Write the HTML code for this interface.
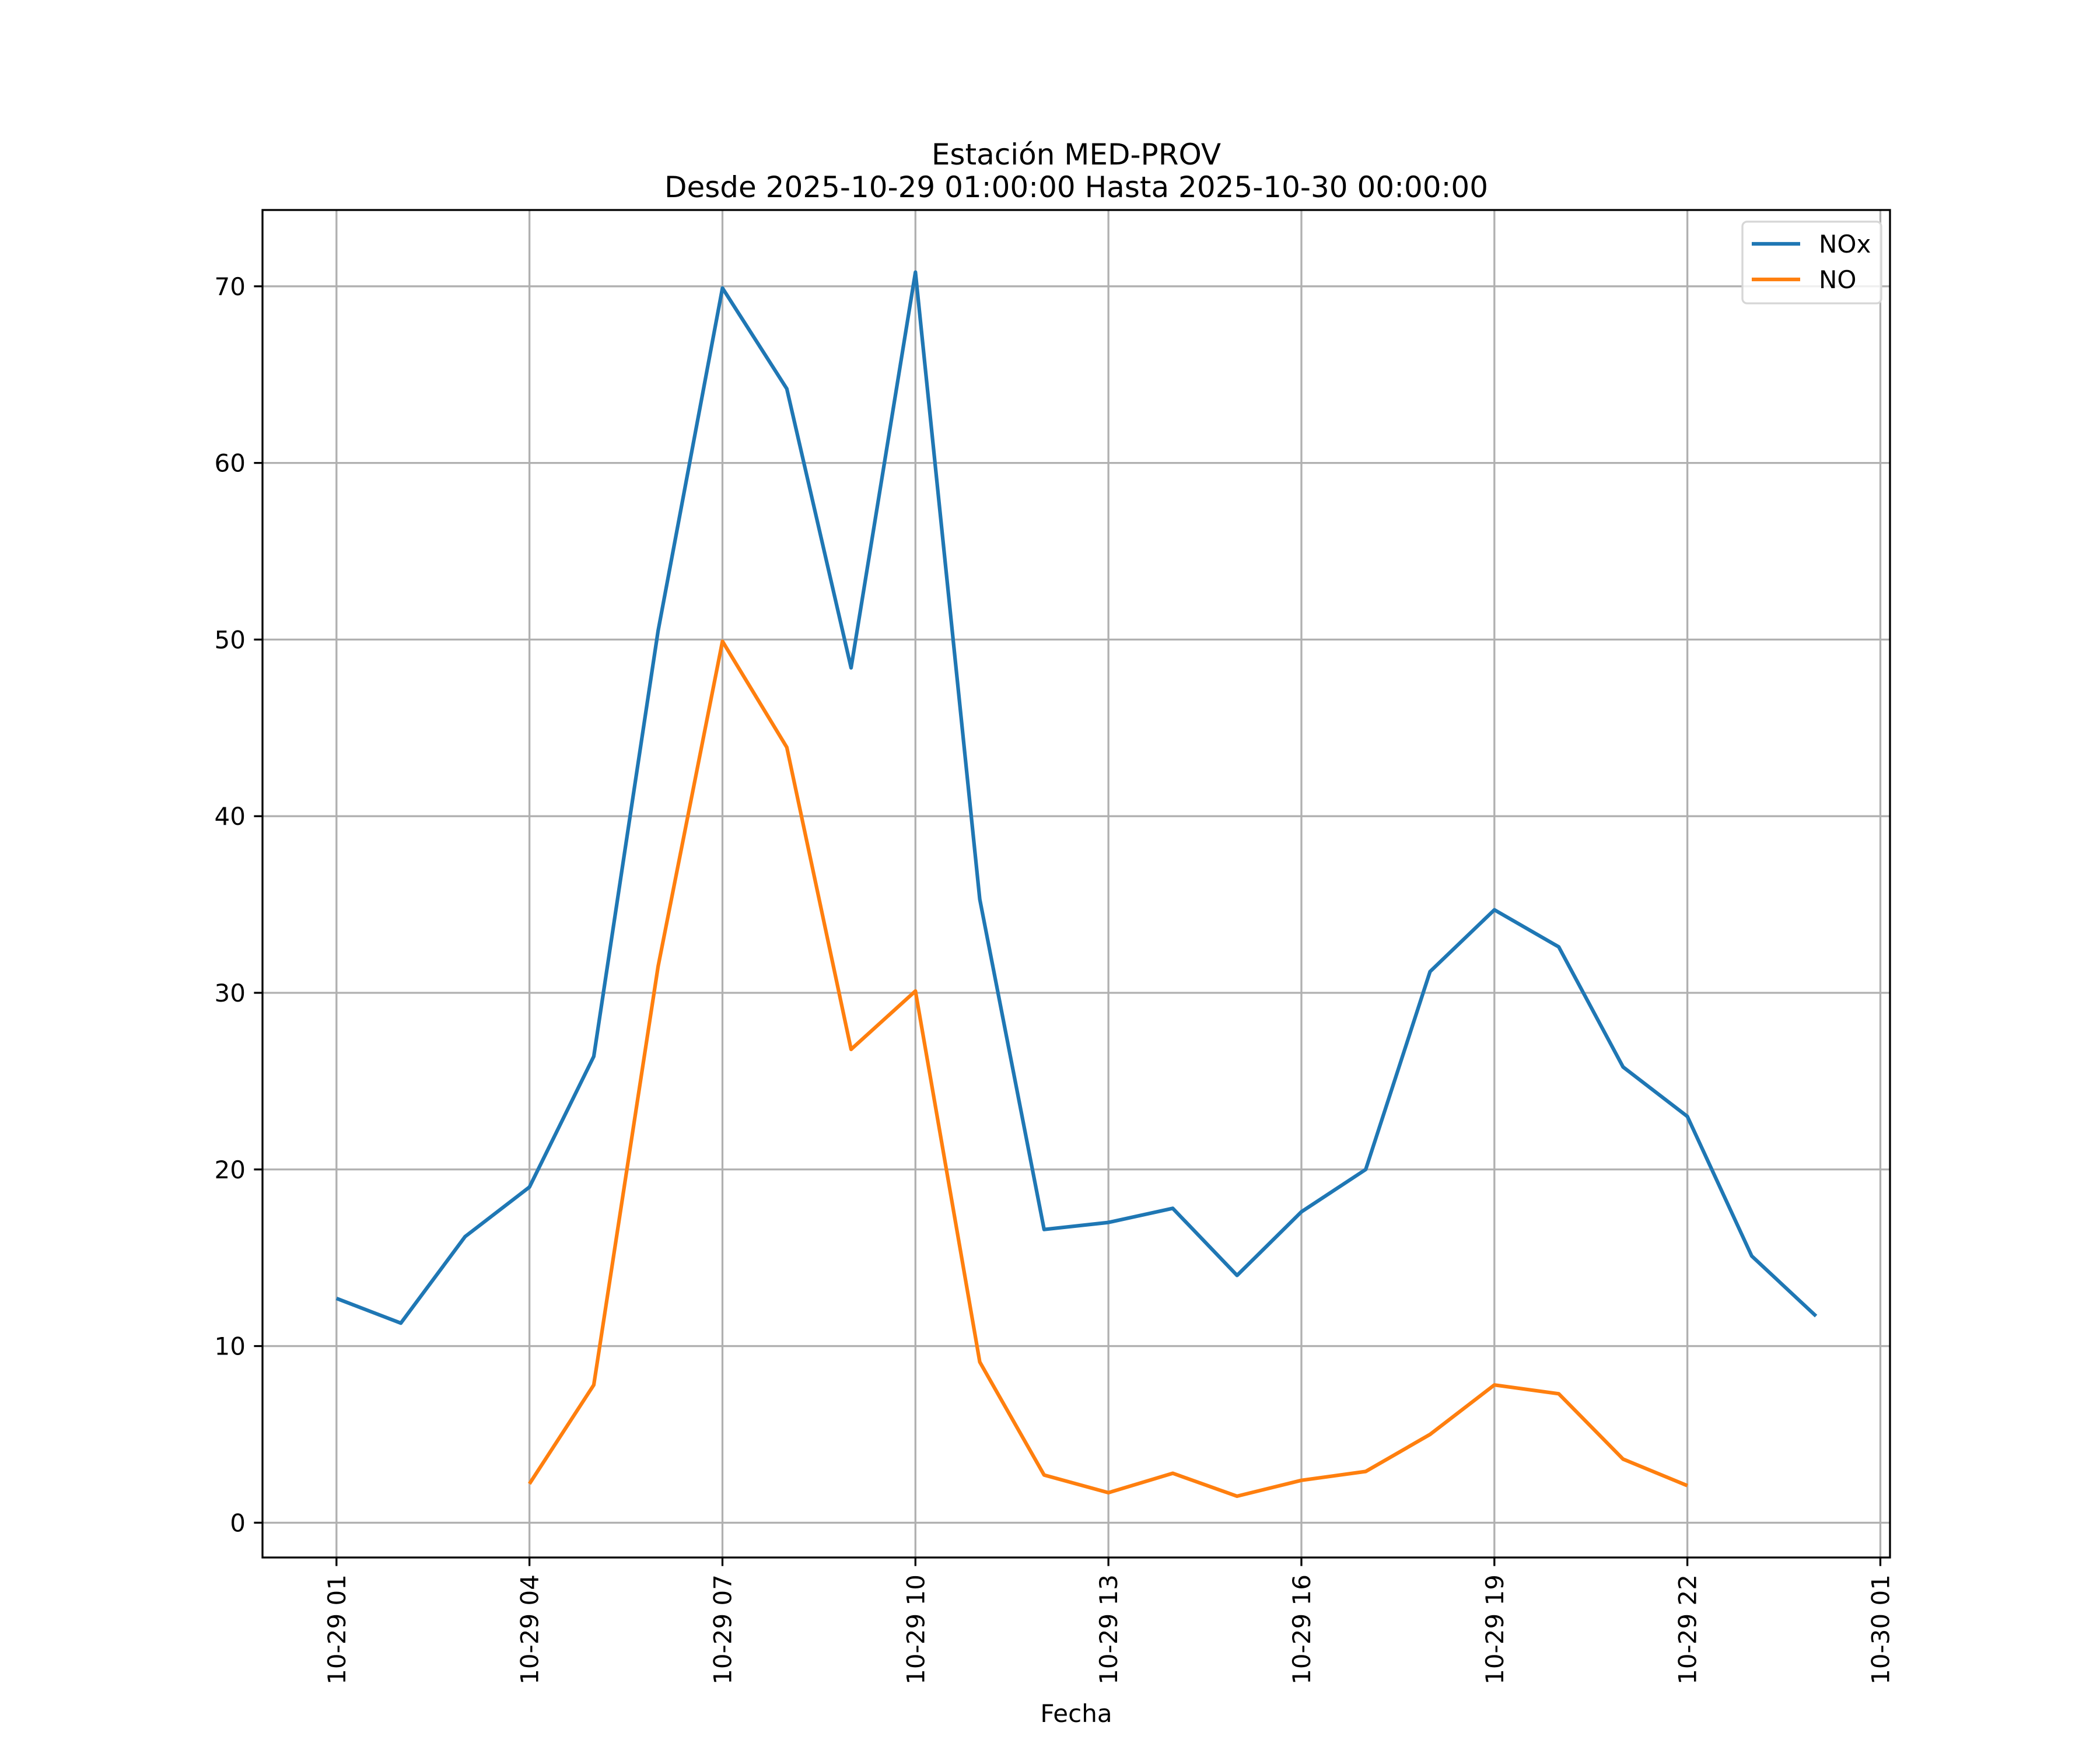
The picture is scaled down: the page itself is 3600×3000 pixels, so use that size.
<!DOCTYPE html>
<html><head><meta charset="utf-8"><style>html,body{margin:0;padding:0;background:#fff}svg{display:block}text{font-family:"DejaVu Sans","Liberation Sans",sans-serif}</style></head>
<body>
<svg id="chart" width="3600" height="3000" xmlns="http://www.w3.org/2000/svg">
<rect width="3600" height="3000" fill="#fff"/>
<g id="grid"></g>
<g id="series"></g>
<rect x="450" y="360" width="2790" height="2310" fill="none" stroke="#000" stroke-width="3.3"/>
<g id="axes"></g>
<text x="1845" y="282" font-size="50" text-anchor="middle">Estación MED-PROV</text>
<text x="1845" y="338" font-size="50" text-anchor="middle">Desde 2025-10-29 01:00:00 Hasta 2025-10-30 00:00:00</text>
<text x="1845" y="2952" font-size="42" text-anchor="middle">Fecha</text>
<g>
<rect x="2987" y="380" width="238" height="140" rx="8" fill="#fff" fill-opacity="0.8" stroke="#d6d6d6" stroke-width="3.3"/>
<line x1="3003" y1="418" x2="3086" y2="418" stroke="#1f77b4" stroke-width="6.25"/>
<text x="3118" y="433" font-size="42">NOx</text>
<line x1="3003" y1="479" x2="3086" y2="479" stroke="#ff7f0e" stroke-width="6.25"/>
<text x="3118" y="494" font-size="42">NO</text>
</g>
</svg>
<script>
const hours = [0,1,2,3,4,5,6,7,8,9,10,11,12,13,14,15,16,17,18,19,20,21,22,23];
const noxValues = [12.7,11.3,16.2,19.0,26.4,50.5,69.9,64.2,48.4,70.8,35.3,16.6,17.0,17.8,14.0,17.6,20.0,31.2,34.7,32.6,25.8,23.0,15.1,11.7];
const noValues = [null,null,null,2.2,7.8,31.5,49.9,43.9,26.8,30.1,9.1,2.7,1.7,2.8,1.5,2.4,2.9,5.0,7.8,7.3,3.6,2.1,null,null];
const xTickHours = [0,3,6,9,12,15,18,21,24];
const xTickLabels = ["10-29 01","10-29 04","10-29 07","10-29 10","10-29 13","10-29 16","10-29 19","10-29 22","10-30 01"];
const yTicks = [0,10,20,30,40,50,60,70];

const L=450,R=3240,T=360,B=2670;
const xMin=-1.15,xMax=24.15,yMin=-1.97,yMax=74.32;
const xs=h=>L+(h-xMin)/(xMax-xMin)*(R-L);
const ys=v=>B-(v-yMin)/(yMax-yMin)*(B-T);
const NS="http://www.w3.org/2000/svg";
function mk(tag,parent,attrs){const e=document.createElementNS(NS,tag);for(const k in attrs)e.setAttribute(k,attrs[k]);parent.appendChild(e);return e;}
const grid=document.getElementById('grid'),axes=document.getElementById('axes'),series=document.getElementById('series');
xTickHours.forEach((h,i)=>{
  const x=xs(h);
  const g=mk('line',grid,{x1:x,y1:T,x2:x,y2:B,stroke:'#b0b0b0','stroke-width':3.3});
  
  
  const t=mk('line',axes,{x1:x,y1:B,x2:x,y2:B+14.6,stroke:'#000','stroke-width':3.3});
  
  
  const tx=mk('text',axes,{x:0,y:0,'font-size':42,'text-anchor':'end',transform:`translate(${x+15},${B+29}) rotate(-90)`});
  tx.textContent=xTickLabels[i];
  
  
});
yTicks.forEach(v=>{
  const y=ys(v);
  const g=mk('line',grid,{x1:L,y1:y,x2:R,y2:y,stroke:'#b0b0b0','stroke-width':3.3});
  
  
  const t=mk('line',axes,{x1:L-14.6,y1:y,x2:L,y2:y,stroke:'#000','stroke-width':3.3});
  
  
  const tx=mk('text',axes,{x:L-29,y:y+15,'font-size':42,'text-anchor':'end'});
  tx.textContent=String(v);
  
  
});
function path(vals){let d='',pen=false;vals.forEach((v,i)=>{if(v==null){pen=false;return;}d+=(pen?'L':'M')+xs(hours[i]).toFixed(1)+','+ys(v).toFixed(1);pen=true;});return d;}
const p1=mk('path',series,{d:path(noxValues),fill:'none',stroke:'#1f77b4','stroke-width':6.25,'stroke-linejoin':'round'});


const p2=mk('path',series,{d:path(noValues),fill:'none',stroke:'#ff7f0e','stroke-width':6.25,'stroke-linejoin':'round'});


</script>
</body></html>
